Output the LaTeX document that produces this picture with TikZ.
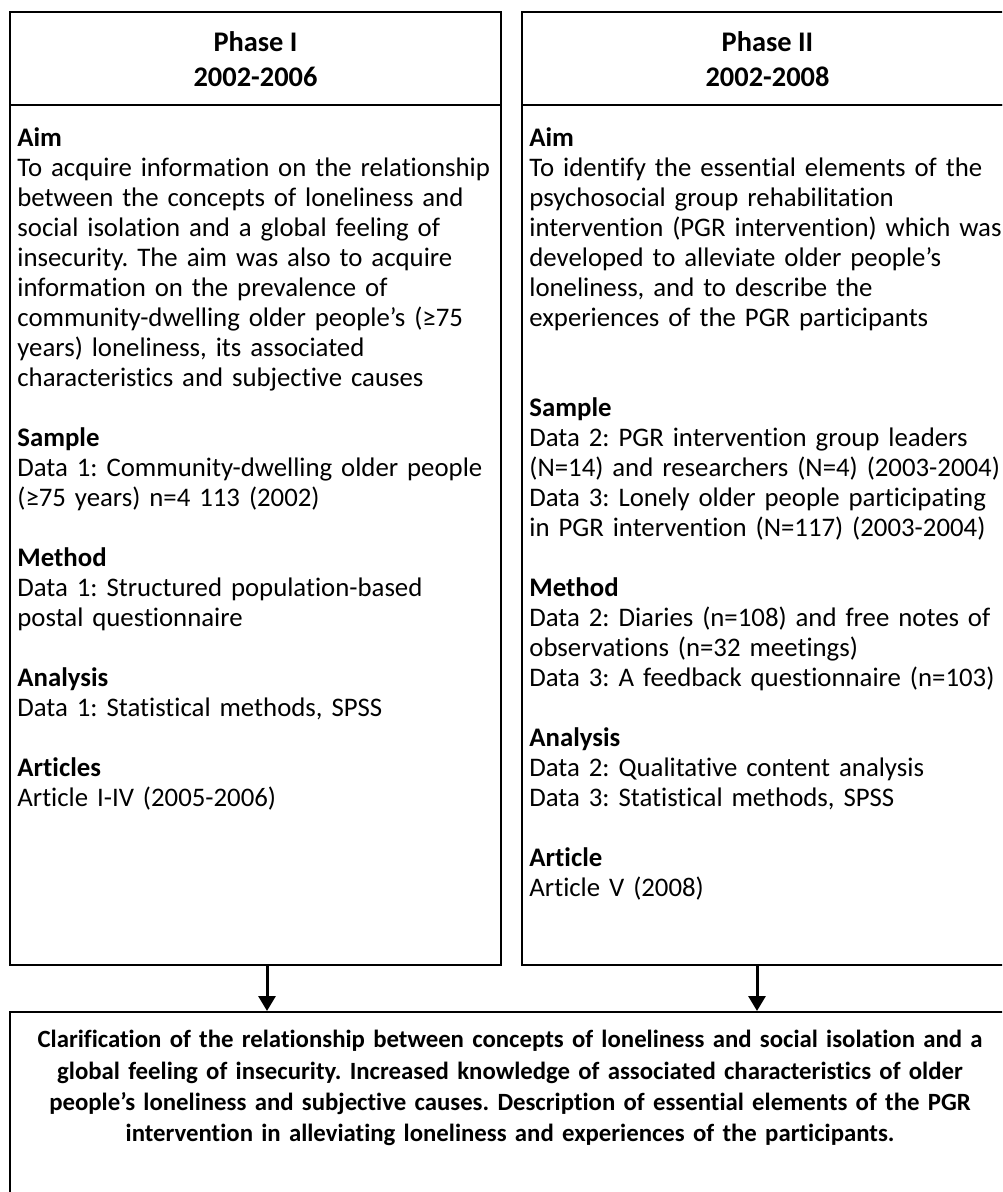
\documentclass[tikz,border=0pt]{standalone}
\usepackage{fontspec}
\setmainfont{Carlito}[Ligatures={TeX,NoCommon}]
\usetikzlibrary{arrows.meta,positioning}
\frenchspacing
\begin{document}
\begin{tikzpicture}[x=0.5pt,y=-0.5pt,
    box/.style={draw,line width=1pt,rectangle,inner sep=0pt},
    head/.style={box,minimum width=245.5pt,minimum height=46.25pt,align=center,font=\fontsize{14.2}{17.5}\selectfont\bfseries},
    body/.style={box,minimum width=245.5pt,minimum height=430pt},
    txt/.style={inner sep=0pt,align=left,text width=260pt,font=\fontsize{13.4}{15}\selectfont},
    flow/.style={line width=1.5pt,-{Triangle[width=8.5pt,length=7.5pt]}}]
\useasboundingbox (0,0) rectangle (1002,1192);
\clip (0,0) rectangle (1002,1192);
% phase boxes
\node[head](hdrA) at (255.5,58.75) {Phase I\\2002-2006};
\node[head](hdrB) at (767.5,58.75) {Phase II\\2002-2008};
\node[body](bodyA) at (255.5,535) {};
\node[body](bodyB) at (767.5,535) {};
\node[box,minimum width=500pt,minimum height=150pt](result) at (510,1162) {};
% texts
\node[txt,anchor=north west](textA) at ([xshift=4pt,yshift=-11.5pt]bodyA.north west) {\textbf{Aim}\\
To acquire information on the relationship\\
between the concepts of loneliness and\\
social isolation and a global feeling of\\
insecurity. The aim was also to acquire\\
information on the prevalence of\\
community-dwelling older people’s (≥75\\
years) loneliness, its associated\\
characteristics and subjective causes\\[\baselineskip]
\textbf{Sample}\\
Data 1: Community-dwelling older people\\
(≥75 years) n=4 113 (2002)\\[\baselineskip]
\textbf{Method}\\
Data 1: Structured population-based\\
postal questionnaire\\[\baselineskip]
\textbf{Analysis}\\
Data 1: Statistical methods, SPSS\\[\baselineskip]
\textbf{Articles}\\
Article I-IV (2005-2006)};
\node[txt,anchor=north west](textB) at ([xshift=4pt,yshift=-11.5pt]bodyB.north west) {\textbf{Aim}\\
To identify the essential elements of the\\
psychosocial group rehabilitation\\
intervention (PGR intervention) which was\\
developed to alleviate older people’s\\
loneliness, and to describe the\\
experiences of the PGR participants\\[2\baselineskip]
\textbf{Sample}\\
Data 2: PGR intervention group leaders\\
(N=14) and researchers (N=4) (2003-2004)\\
Data 3: Lonely older people participating\\
in PGR intervention (N=117) (2003-2004)\\[\baselineskip]
\textbf{Method}\\
Data 2: Diaries (n=108) and free notes of\\
observations (n=32 meetings)\\
Data 3: A feedback questionnaire (n=103)\\[\baselineskip]
\textbf{Analysis}\\
Data 2: Qualitative content analysis\\
Data 3: Statistical methods, SPSS\\[\baselineskip]
\textbf{Article}\\
Article V (2008)};
\node[txt,anchor=north,align=center,text width=495pt,font=\fontsize{12.4}{15.6}\selectfont\bfseries](resultText) at ([yshift=-9.5pt]result.north) {Clarification of the relationship between concepts of loneliness and social isolation and a\\
global feeling of insecurity. Increased knowledge of associated characteristics of older\\
people’s loneliness and subjective causes. Description of essential elements of the PGR\\
intervention in alleviating loneliness and experiences of the participants.};
% arrows
\draw[flow] ([xshift=5.75pt]bodyA.south) -- ([xshift=5.75pt]bodyA.south |- result.north);
\draw[flow] ([xshift=-5.25pt]bodyB.south) -- ([xshift=-5.25pt]bodyB.south |- result.north);
\end{tikzpicture}
\end{document}
